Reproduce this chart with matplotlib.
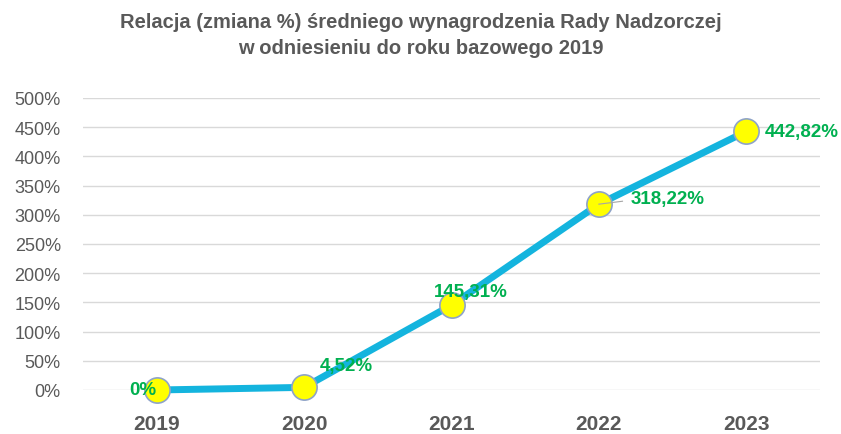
import matplotlib.pyplot as plt
from matplotlib.ticker import FuncFormatter

years = ['2019', '2020', '2021', '2022', '2023']
values = [0.0, 4.52, 145.31, 318.22, 442.82]
labels = ['0%', '4,52%', '145,31%', '318,22%', '442,82%']

plt.rcParams['font.family'] = ['Liberation Sans', 'DejaVu Sans']

fig = plt.figure(figsize=(8.41, 4.35), dpi=100)
ax = fig.add_axes([83 / 841, 1 - 391 / 435, (820 - 83) / 841, (391 - 99) / 435])

x = range(len(years))
ax.plot(x, values, color='#14B4DE', linewidth=5, zorder=2, solid_capstyle='butt', clip_on=False)
ax.scatter(x, values, s=330, color='#FFFF00', edgecolors='#8EA3C8', linewidths=1.2,
           zorder=3, clip_on=False)

ax.set_xlim(-0.5, 4.5)
ax.set_ylim(0, 500)
ax.set_yticks(range(0, 501, 50))
ax.yaxis.set_major_formatter(FuncFormatter(lambda v, p: f'{int(v)}%'))
ax.set_xticks(list(x))
ax.set_xticklabels(years, fontsize=15, fontweight='bold', color='#595959')
ax.tick_params(axis='y', labelsize=13, labelcolor='#595959', length=0, pad=16)
ax.tick_params(axis='x', length=0, pad=17)
ax.grid(axis='y', color='#D9D9D9', linewidth=1)
ax.set_axisbelow(True)
for s in ax.spines.values():
    s.set_visible(False)

green = '#00B050'
lab_kw = dict(color=green, fontsize=13.5, fontweight='bold', zorder=4, annotation_clip=False)
# label placements (offsets in points)
ax.annotate(labels[0], (0, values[0]), xytext=(0, 0), textcoords='offset points',
            ha='right', va='center', **lab_kw)
ax.annotate(labels[1], (1, values[1]), xytext=(11, 16), textcoords='offset points',
            ha='left', va='center', **lab_kw)
ax.annotate(labels[2], (2, values[2]), xytext=(14, 10), textcoords='offset points',
            ha='center', va='center', **lab_kw)
ax.annotate(labels[3], (3, values[3]), xytext=(23, 4), textcoords='offset points',
            ha='left', va='center', **lab_kw)
ax.plot([3, 3.16], [values[3], values[3] + 5], color='#A6A6A6', linewidth=0.8, zorder=3.5)
ax.annotate(labels[4], (4, values[4]), xytext=(13, 0), textcoords='offset points',
            ha='left', va='center', **lab_kw)

fig.text(0.5, 1 - 22 / 435, 'Relacja (zmiana %) średniego wynagrodzenia Rady Nadzorczej',
         ha='center', va='center', fontsize=14.5, fontweight='bold', color='#595959')
fig.text(0.5, 1 - 48 / 435, 'w odniesieniu do roku bazowego 2019',
         ha='center', va='center', fontsize=14.5, fontweight='bold', color='#595959')

fig.savefig('out.png', dpi=100)
